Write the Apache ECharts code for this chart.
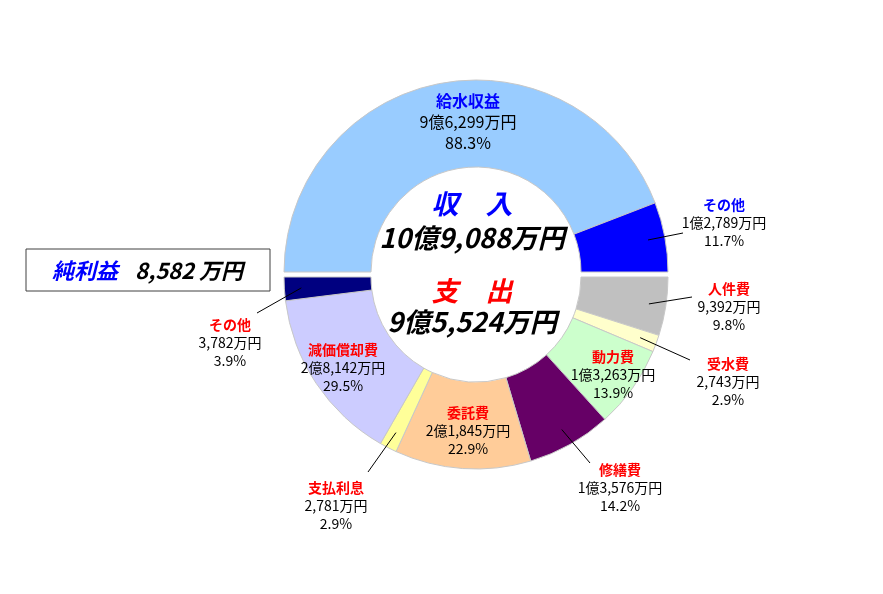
<!DOCTYPE html>
<html>
<head>
    <meta charset="utf-8">
    <title>収入と支出</title>
    <script src="https://cdn.jsdelivr.net/npm/echarts@6/dist/echarts.min.js"></script>
    <style>
        html, body { margin: 0; padding: 0; background: #fff; }
        #main { width: 883px; height: 594px; }
    </style>
</head>
<body>
<div id="main"></div>
<script type="text/javascript">
// 収入（単位：万円）
var revNames = ['給水収益', 'その他'];
var revValues = [96299, 12789];
var revPct = [88.3, 11.7];
// 支出（単位：万円）
var expNames = ['人件費', '受水費', '動力費', '修繕費', '委託費', '支払利息', '減価償却費', 'その他'];
var expValues = [9392, 2743, 13263, 13576, 21845, 2781, 28142, 3782];
var expPct = [9.8, 2.9, 13.9, 14.2, 22.9, 2.9, 29.5, 3.9];
// 純利益
var netProfit = 8582;

var revColors = ['#99CCFF', '#0000FF'];
var expColors = ['#C0C0C0', '#FFFFCC', '#CCFFCC', '#660066', '#FFCC99', '#FFFF99', '#CCCCFF', '#000080'];

// ラベルの位置 [x, y, 引出線の終点]
var labelAt = [
    [[468, 122, null], [724, 223, [683, 233]]],
    [[729, 307, [692, 297]], [728, 382, [690, 360]], [613, 375, null], [620, 488, [590, 463]],
     [468, 431, null], [336, 506, [368, 472]], [343, 368, null], [230, 343, [257, 313]]]
];

var FONT = '"Noto Sans CJK JP", sans-serif';
var CX = 476, CY = [272, 277], R0 = 105, R1 = 192;

function sum(a) { var s = 0; for (var i = 0; i < a.length; i++) s += a[i]; return s; }
var revTotal = sum(revValues);
var expTotal = sum(expValues);

// 万円 -> "x億y,yyy万円"
function yen(v) {
    var oku = Math.floor(v / 10000), man = v % 10000;
    return (oku ? oku + '億' : '') + man.toLocaleString('en-US') + '万円';
}

// 引出線の始点（扇形の中ほど）
function leaderStart(s, i) {
    var vals = s ? expValues : revValues;
    var total = s ? expTotal : revTotal;
    var cum = 0;
    for (var k = 0; k < i; k++) cum += vals[k];
    cum += vals[i] / 2;
    var ang = ((s ? 0 : 180) - cum / total * 180) * Math.PI / 180;
    var r = 175;
    return [CX + r * Math.cos(ang), CY[s] - r * Math.sin(ang)];
}

function makeData(names, values, colors, pos, overlay) {
    var data = [];
    for (var i = 0; i < names.length; i++) {
        var outside = !!pos[i][2];
        data.push({
            name: names[i],
            value: values[i],
            itemStyle: { color: overlay ? 'rgba(0,0,0,0)' : colors[i] },
            label: { show: overlay, position: outside ? 'outside' : 'inside' },
            labelLine: { show: overlay && outside }
        });
    }
    return data;
}

var rich = {
    bt: { color: '#0000FF', fontWeight: 'bold', fontSize: 16, lineHeight: 21, fontFamily: FONT },
    bv: { color: '#000', fontSize: 16, lineHeight: 21, fontFamily: FONT },
    rt: { color: '#0000FF', fontWeight: 'bold', fontSize: 14, lineHeight: 18, fontFamily: FONT },
    et: { color: '#FF0000', fontWeight: 'bold', fontSize: 14, lineHeight: 18, fontFamily: FONT },
    v: { color: '#000', fontSize: 14, lineHeight: 18, fontFamily: FONT }
};

function labelText(p) {
    var s = p.seriesIndex % 2, i = p.dataIndex;
    var pct = (s ? expPct : revPct)[i].toFixed(1) + '%';
    var amt = yen(p.value);
    if (s === 0 && i === 0) {
        return '{bt|' + p.name + '}\n{bv|' + amt + '}\n{bv|' + pct + '}';
    }
    var t = s ? 'et' : 'rt';
    return '{' + t + '|' + p.name + '}\n{v|' + amt + '}\n{v|' + pct + '}';
}

function layoutLabel(p) {
    var s = p.seriesIndex % 2;
    var pos = labelAt[s][p.dataIndex];
    var out = { x: pos[0], y: pos[1], align: 'center', verticalAlign: 'middle' };
    if (pos[2]) {
        out.labelLinePoints = [leaderStart(s, p.dataIndex), pos[2]];
    }
    return out;
}

// 半円のドーナツ。overlay=true は透明な扇形にラベルと引出線だけを載せる
function halfRing(idx, start, end, data, overlay) {
    return {
        type: 'pie',
        z: overlay ? 5 : 2,
        center: [CX, CY[idx]],
        radius: [R0, R1],
        startAngle: start,
        endAngle: end,
        clockwise: true,
        avoidLabelOverlap: false,
        silent: true,
        itemStyle: overlay ? { borderWidth: 0 } : { borderColor: '#c8c8c8', borderWidth: 1 },
        label: { show: overlay, formatter: labelText, rich: rich, overflow: 'none', fontFamily: FONT },
        labelLine: { show: overlay, smooth: false, lineStyle: { color: '#000', width: 1 } },
        labelLayout: overlay ? layoutLabel : null,
        emphasis: { disabled: true },
        data: data
    };
}

function centerText(text, y, color) {
    return {
        type: 'text', x: 472, y: y,
        style: {
            text: text, fill: color,
            font: 'italic bold 27px ' + FONT,
            align: 'center', verticalAlign: 'middle',
            textAlign: 'center', textVerticalAlign: 'middle',
            shadowColor: 'rgba(0,0,0,0.25)', shadowOffsetX: 1, shadowOffsetY: 1
        }
    };
}

var myChart = echarts.init(document.getElementById('main'));

myChart.setOption({
    animation: false,
    backgroundColor: '#fff',
    textStyle: { fontFamily: FONT },
    series: [
        halfRing(0, 180, 0, makeData(revNames, revValues, revColors, labelAt[0], false), false),
        halfRing(1, 0, -180, makeData(expNames, expValues, expColors, labelAt[1], false), false),
        halfRing(0, 180, 0, makeData(revNames, revValues, revColors, labelAt[0], true), true),
        halfRing(1, 0, -180, makeData(expNames, expValues, expColors, labelAt[1], true), true)
    ],
    graphic: [
        centerText('収　入', 204, '#0000FF'),
        centerText(yen(revTotal), 238, '#000'),
        centerText('支　出', 291, '#FF0000'),
        centerText(yen(expTotal), 322, '#000'),
        {
            type: 'rect',
            shape: { x: 26, y: 249, width: 244, height: 42 },
            style: { fill: '#fff', stroke: '#404040', lineWidth: 1 }
        },
        {
            type: 'text', x: 52, y: 271,
            style: {
                text: '純利益', fill: '#0000FF', font: 'italic bold 22px ' + FONT,
                align: 'left', verticalAlign: 'middle', textAlign: 'left', textVerticalAlign: 'middle'
            }
        },
        {
            type: 'text', x: 135, y: 271,
            style: {
                text: netProfit.toLocaleString('en-US') + ' 万円', fill: '#000', font: 'italic bold 22px ' + FONT,
                align: 'left', verticalAlign: 'middle', textAlign: 'left', textVerticalAlign: 'middle'
            }
        }
    ]
});
</script>
</body>
</html>
